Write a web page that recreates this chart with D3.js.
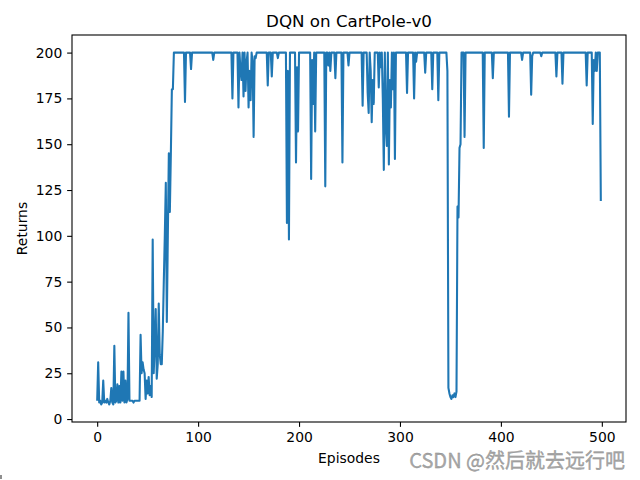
<!DOCTYPE html>
<html>
<head>
<meta charset="utf-8">
<script src="https://cdn.jsdelivr.net/npm/d3@7/dist/d3.min.js"></script>
<style>
  html, body { margin: 0; padding: 0; background: #fff; }
  svg { display: block; }
</style>
</head>
<body>
<svg id="chart" width="640" height="480"></svg>
<script>
// ---- data ----
const title = "DQN on CartPole-v0";
const xLabel = "Episodes";
const yLabel = "Returns";
const watermark = "CSDN @然后就去远行吧";
const xTicks = [0, 100, 200, 300, 400, 500];
const yTicks = [0, 25, 50, 75, 100, 125, 150, 175, 200];
const returns = [
  10, 31, 9, 10, 8, 9, 21, 9, 10, 9,
  11, 9, 8, 10, 17, 9, 8, 40, 9, 10,
  19, 9, 18, 9, 26, 10, 26, 9, 21, 9,
  11, 58, 10, 10, 10, 10, 9, 10, 10, 10,
  10, 10, 10, 46, 25, 31, 27, 25, 11, 21,
  14, 23, 13, 18, 12, 98, 25, 40, 60, 22,
  30, 63, 35, 30, 30, 48, 75, 100, 129, 53,
  100, 145, 113, 145, 180, 180, 200, 200, 200, 200,
  200, 200, 200, 200, 200, 200, 200, 173, 200, 200,
  200, 200, 200, 191, 200, 200, 200, 200, 200, 200,
  200, 200, 200, 200, 200, 200, 200, 200, 200, 200,
  200, 200, 200, 200, 200, 196, 200, 200, 200, 200,
  200, 200, 200, 200, 200, 200, 200, 200, 200, 200,
  200, 200, 200, 200, 175, 200, 200, 200, 200, 200,
  170, 200, 190, 185, 200, 176, 200, 179, 195, 200,
  170, 190, 174, 200, 195, 154, 198, 197, 200, 200,
  200, 200, 200, 200, 200, 200, 200, 200, 200, 182,
  200, 200, 200, 187, 200, 200, 200, 200, 200, 197,
  200, 200, 200, 200, 200, 200, 200, 200, 107, 190,
  98, 200, 200, 200, 200, 200, 200, 140, 192, 157,
  200, 200, 200, 200, 200, 200, 200, 200, 200, 200,
  200, 200, 131, 196, 172, 200, 157, 200, 200, 200,
  200, 200, 200, 200, 200, 200, 127, 200, 200, 193,
  200, 190, 200, 200, 200, 200, 186, 200, 200, 200,
  200, 200, 200, 140, 200, 200, 200, 200, 200, 193,
  200, 200, 200, 200, 200, 200, 200, 200, 200, 200,
  200, 200, 200, 171, 200, 200, 200, 200, 178, 167,
  200, 190, 162, 185, 172, 200, 200, 200, 200, 181,
  200, 192, 200, 175, 136, 200, 160, 149, 200, 139,
  185, 170, 200, 180, 200, 142, 200, 200, 200, 200,
  200, 200, 200, 200, 200, 200, 200, 178, 200, 200,
  200, 200, 200, 200, 175, 200, 195, 200, 200, 200,
  200, 200, 200, 200, 200, 189, 200, 200, 200, 200,
  200, 200, 180, 200, 200, 200, 200, 200, 174, 200,
  200, 200, 200, 200, 200, 200, 200, 190, 17, 14,
  12, 11, 13, 12, 14, 12, 15, 116, 110, 148,
  150, 200, 200, 200, 154, 200, 200, 200, 200, 200,
  200, 200, 200, 200, 200, 200, 200, 200, 200, 200,
  200, 200, 200, 148, 200, 200, 200, 200, 200, 200,
  200, 200, 186, 200, 200, 200, 200, 200, 200, 200,
  200, 200, 200, 200, 200, 200, 200, 200, 165, 200,
  200, 200, 200, 200, 200, 200, 200, 200, 200, 200,
  200, 196, 200, 200, 200, 200, 200, 200, 200, 200,
  177, 198, 200, 200, 200, 200, 200, 200, 200, 200,
  198, 200, 200, 200, 200, 200, 200, 200, 200, 200,
  200, 200, 200, 200, 200, 187, 200, 200, 200, 200,
  200, 183, 200, 200, 200, 200, 200, 200, 200, 200,
  200, 200, 200, 200, 200, 200, 200, 200, 200, 200,
  200, 200, 200, 200, 200, 182, 200, 200, 200, 200,
  200, 161, 196, 190, 200, 190, 200, 200, 200, 119
];
const episodes = returns.map((_, i) => i);

// ---- layout ----
const W = 640, H = 480;
const margin = { left: 72, right: 14, top: 35, bottom: 58 };
const FONT = "'DejaVu Sans', sans-serif";
const svg = d3.select("#chart");
svg.append("rect").attr("width", W).attr("height", H).attr("fill", "#fff");

const xExt = d3.extent(episodes), yExt = d3.extent(returns);
const xPad = (xExt[1] - xExt[0]) * 0.05, yPad = (yExt[1] - yExt[0]) * 0.05;
const x = d3.scaleLinear().domain([xExt[0] - xPad, xExt[1] + xPad])
  .range([margin.left, W - margin.right]);
const y = d3.scaleLinear().domain([yExt[0] - yPad, yExt[1] + yPad])
  .range([H - margin.bottom, margin.top]);

const tickLen = 4.86, tickPad = 4.86;

// line
const g = svg.append("g");
g.append("path")
  .datum(episodes.map((e, i) => [e, returns[i]]))
  .attr("fill", "none")
  .attr("stroke", "#1f77b4")
  .attr("stroke-width", 2.08)
  .attr("stroke-linejoin", "round")
  .attr("stroke-linecap", "butt")
  .attr("d", d3.line().x(d => x(d[0])).y(d => y(d[1])));

// axes
const xAxis = svg.append("g")
  .attr("transform", `translate(0,${H - margin.bottom})`)
  .call(d3.axisBottom(x).tickValues(xTicks).tickSize(tickLen).tickPadding(tickPad).tickSizeOuter(0));
const yAxis = svg.append("g")
  .attr("transform", `translate(${margin.left},0)`)
  .call(d3.axisLeft(y).tickValues(yTicks).tickSize(tickLen).tickPadding(tickPad).tickSizeOuter(0));
[xAxis, yAxis].forEach(a => {
  a.select(".domain").remove();
  a.selectAll(".tick line").attr("stroke", "#000").attr("stroke-width", 1.1);
  a.selectAll(".tick text").attr("fill", "#000")
    .style("font-family", FONT).style("font-size", "13.9px");
});

// spines
svg.append("rect")
  .attr("x", margin.left).attr("y", margin.top)
  .attr("width", W - margin.left - margin.right)
  .attr("height", H - margin.top - margin.bottom)
  .attr("fill", "none").attr("stroke", "#000").attr("stroke-width", 1.1);

// title & labels
svg.append("text").text(title)
  .attr("x", (margin.left + W - margin.right) / 2).attr("y", margin.top - 8.5)
  .attr("text-anchor", "middle")
  .style("font-family", FONT).style("font-size", "16.7px").attr("fill", "#000");
svg.append("text").text(xLabel)
  .attr("x", (margin.left + W - margin.right) / 2).attr("y", 463)
  .attr("text-anchor", "middle")
  .style("font-family", FONT).style("font-size", "13.9px").attr("fill", "#000");
svg.append("text").text(yLabel)
  .attr("transform", `translate(27,${(margin.top + H - margin.bottom) / 2}) rotate(-90)`)
  .attr("text-anchor", "middle")
  .style("font-family", FONT).style("font-size", "13.9px").attr("fill", "#000");

// watermark
svg.append("text").text(watermark)
  .attr("x", 625).attr("y", 468)
  .attr("text-anchor", "end")
  .style("font-family", "'Noto Sans CJK SC', sans-serif").style("font-size", "20px")
  .attr("fill", "#a8a8a8")
  .attr("stroke", "#888").attr("stroke-width", 0.3);

// small corner mark
svg.append("line").attr("x1", 1).attr("y1", 475).attr("x2", 1).attr("y2", 479)
  .attr("stroke", "#444").attr("stroke-width", 1.2);
</script>
</body>
</html>
